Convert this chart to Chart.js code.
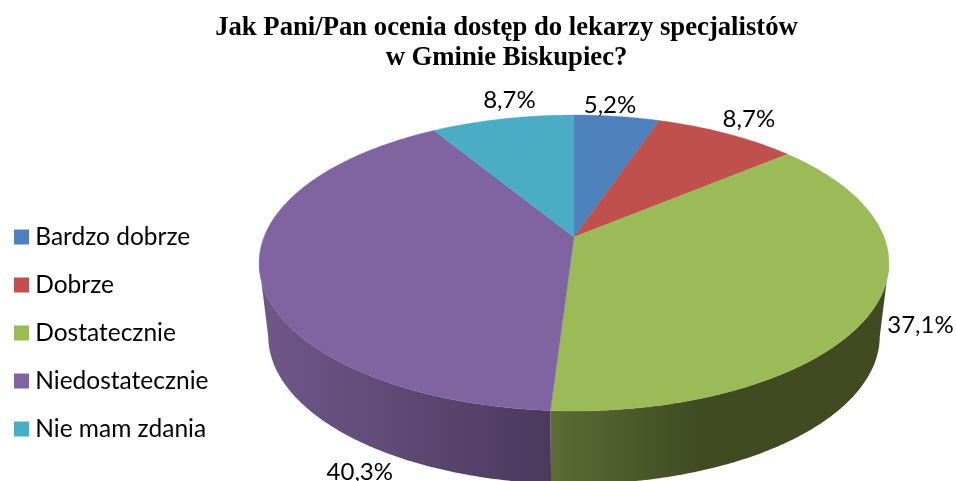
<!DOCTYPE html>
<html><head><meta charset="utf-8">
<style>html,body{margin:0;padding:0;background:#fff;overflow:hidden}canvas{display:block}</style>
<script src="https://cdn.jsdelivr.net/npm/chart.js@4"></script>
</head><body><canvas id="c" width="956" height="481"></canvas>
<script>
const categories = ['Bardzo dobrze','Dobrze','Dostatecznie','Niedostatecznie','Nie mam zdania'];
const values = [5.2,8.7,37.1,40.3,8.7];
const colors = ['#4f81bd','#c0504d','#9bbb59','#8064a2','#4bacc6'];
const titleLines = ['Jak Pani/Pan ocenia dostęp do lekarzy specjalistów','w Gminie Biskupiec?'];
// per-slice wall shading: [xStart, colourStart, xEnd, colourEnd]
const wallShades = [null,null,[552,'#5b6c34',700,'#404b22'],[262,'#705789',551,'#4b395d'],null];
// label offsets from the rim point at each slice's mid angle
const labelOffsets = [[-7,-11],[22,-14],[46,18],[100,199],[7,-19]];

const P = {cx:574, cy:237, b:310, a:143.4, k:-0.1757, cy2:310, b2:301, a2:143.5};
function rimTop(t){const u=Math.cos(t),v=Math.sin(t),d=1+P.k*v;return [P.cx+P.b*u/d,P.cy+P.a*v/d];}
function rimBot(t){const u=Math.cos(t),v=Math.sin(t),d=1+P.k*v;return [P.cx+P.b2*u/d,P.cy2+P.a2*v/d];}
function samples(s,e){const n=Math.max(2,Math.ceil((e-s)/0.01)),r=[];for(let i=0;i<=n;i++)r.push(s+(e-s)*i/n);return r;}
function tracePath(ctx,pts){ctx.beginPath();pts.forEach((p,i)=>i?ctx.lineTo(p[0],p[1]):ctx.moveTo(p[0],p[1]));ctx.closePath();}

const pie3d = {
  id:'pie3d',
  afterLayout(chart){
    chart.legend.left = -3.5;
    chart.legend.top = 201.25;
    chart.titleBlock.left = 57;
  },
  beforeDatasetDraw(chart,args){
    const ctx=chart.ctx, arcs=chart.getDatasetMeta(args.index).data;
    ctx.save();
    arcs.forEach((arc,i)=>{
      const sh=wallShades[i]; if(!sh) return;
      const ts=samples(arc.startAngle,arc.endAngle).filter(t=>Math.sin(t)>=-P.k);
      if(ts.length<2) return;
      const pts=ts.map(rimTop).concat(ts.slice().reverse().map(rimBot));
      const g=ctx.createLinearGradient(sh[0],0,sh[2],0);
      g.addColorStop(0,sh[1]);g.addColorStop(1,sh[3]);
      tracePath(ctx,pts);ctx.fillStyle=g;ctx.fill();
    });
    arcs.forEach((arc,i)=>{
      const pts=[[P.cx,P.cy]].concat(samples(arc.startAngle,arc.endAngle).map(rimTop));
      tracePath(ctx,pts);
      ctx.fillStyle=colors[i];ctx.strokeStyle=colors[i];ctx.lineWidth=0.4;
      ctx.fill();ctx.stroke();
    });
    ctx.restore();
    return false;
  },
  afterDatasetsDraw(chart){
    const ctx=chart.ctx, arcs=chart.getDatasetMeta(0).data;
    ctx.save();
    ctx.font='24px Lato';ctx.fillStyle='#000';ctx.textAlign='center';ctx.textBaseline='middle';
    arcs.forEach((arc,i)=>{
      const p=rimTop((arc.startAngle+arc.endAngle)/2);
      ctx.fillText(values[i].toFixed(1).replace('.',',')+'%',p[0]+labelOffsets[i][0],p[1]+labelOffsets[i][1]);
    });
    ctx.restore();
  }
};

new Chart(document.getElementById('c'),{
  type:'pie',
  data:{labels:categories,datasets:[{data:values,backgroundColor:colors,borderWidth:0}]},
  plugins:[pie3d],
  options:{
    responsive:false,animation:false,
    plugins:{
      tooltip:{enabled:false},
      title:{display:true,text:titleLines,color:'#000',padding:{top:13,bottom:8},
        font:{family:'"Liberation Serif"',size:26.7,weight:'bold',lineHeight:1.12}},
      legend:{position:'left',align:'start',
        labels:{color:'#000',font:{family:'Lato',size:24.5},boxWidth:3,boxHeight:3,padding:23.5,
          generateLabels:(chart)=>categories.map((t,i)=>({text:t,fillStyle:colors[i],strokeStyle:colors[i],lineWidth:12,index:i,hidden:false}))}}
    }
  }
});
</script></body></html>
